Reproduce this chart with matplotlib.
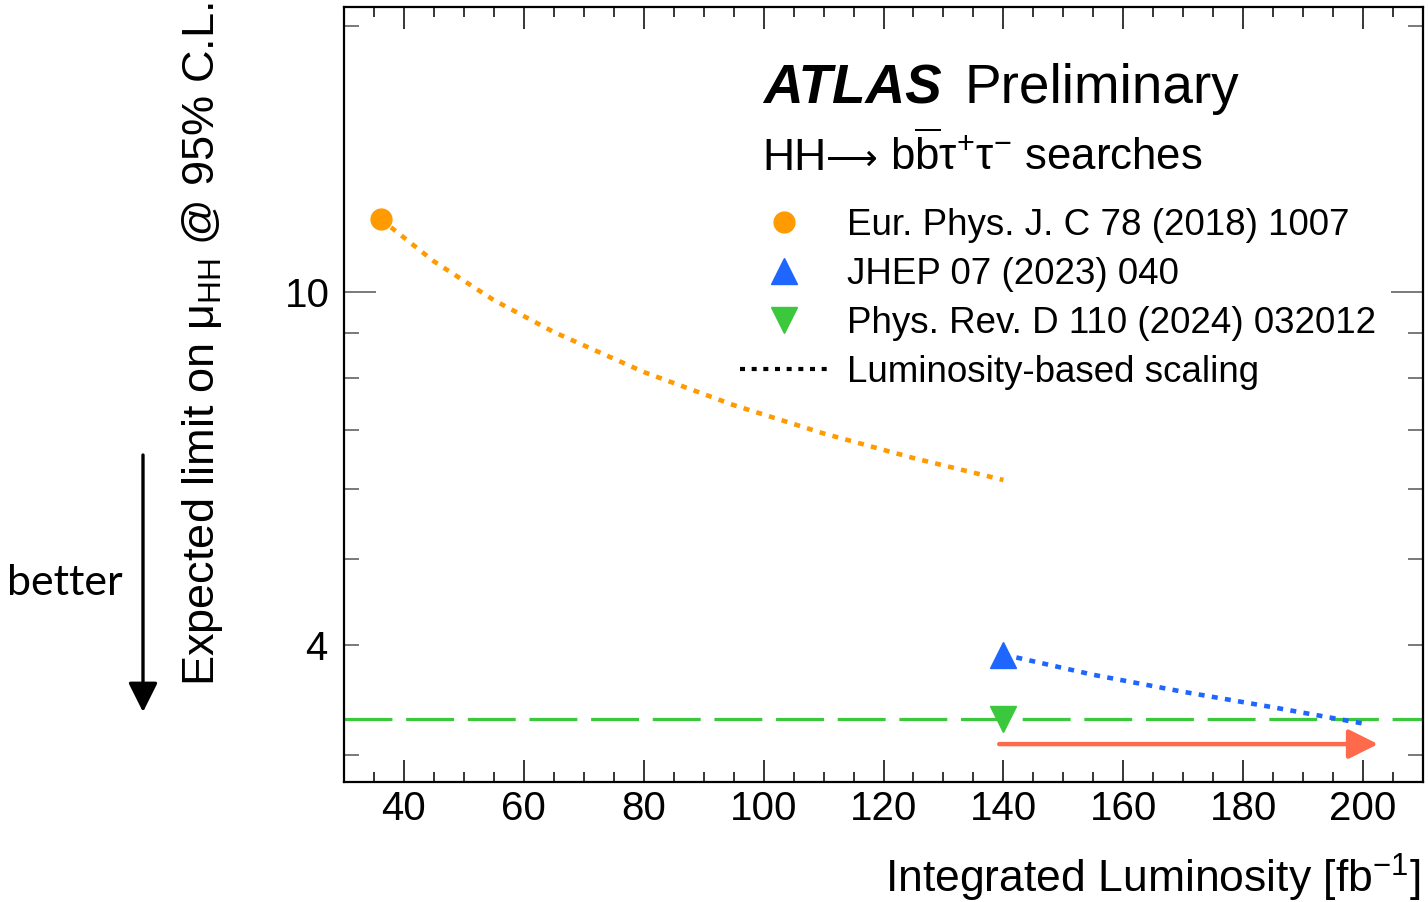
import numpy as np
import matplotlib
matplotlib.use("Agg")
import matplotlib.pyplot as plt
from matplotlib.lines import Line2D

plt.rcParams["font.family"] = ["Liberation Sans", "DejaVu Sans"]
plt.rcParams["mathtext.fontset"] = "custom"
plt.rcParams["mathtext.rm"] = "Liberation Sans"
plt.rcParams["mathtext.it"] = "Liberation Sans:italic"
plt.rcParams["mathtext.bf"] = "Liberation Sans:bold"

# ---- values ----
lumi_2018 = [36.1]
limit_2018 = [12.1]
lumi_2023 = [140]
limit_2023 = [3.9]
lumi_2024 = [140]
limit_2024 = [3.3]

# luminosity-based scaling curves
scale_lumi_2018 = [36.1, 45, 55, 65, 80, 95, 110, 125, 140]
scale_limit_2018 = [12.1, 10.84, 9.80, 9.02, 8.13, 7.46, 6.93, 6.50, 6.14]
scale_lumi_2023 = [140, 155, 170, 185, 200]
scale_limit_2023 = [3.9, 3.70, 3.54, 3.40, 3.26]

# red "more luminosity" arrow
arrow_lumi = [139.3, 202.5]
arrow_limit = 3.09

labels = ["Eur. Phys. J. C 78 (2018) 1007",
          "JHEP 07 (2023) 040",
          "Phys. Rev. D 110 (2024) 032012",
          "Luminosity-based scaling"]

ORANGE = "#ff9a00"
BLUE = "#1f66ff"
GREEN = "#3cc83c"
RED = "#ff6a4d"

W, H = 1428, 902
fig = plt.figure(figsize=(W / 100, H / 100), dpi=100)
ax = fig.add_axes([344 / W, (H - 782) / H, (1423 - 344) / W, (782 - 7) / H])

# ---- data ----
ax.axhline(limit_2024[0], color=GREEN, lw=2.3, dashes=(15, 4.3), zorder=2)
ax.plot(scale_lumi_2018, scale_limit_2018, color=ORANGE, lw=3.3,
        dashes=(1.3, 1.6), zorder=3)
ax.plot(scale_lumi_2023, scale_limit_2023, color=BLUE, lw=3.3,
        dashes=(1.3, 1.6), zorder=3)
ax.plot(lumi_2018, limit_2018, "o", color=ORANGE, ms=15, zorder=4)
ax.plot(lumi_2023, limit_2023, "^", color=BLUE, ms=19, zorder=4)
ax.plot(lumi_2024, limit_2024, "v", color=GREEN, ms=19, zorder=4)

ax.annotate("", xy=(arrow_lumi[1], arrow_limit), xytext=(arrow_lumi[0], arrow_limit),
            xycoords="data", textcoords="data",
            arrowprops=dict(arrowstyle="-|>,head_length=0.9,head_width=0.45",
                            mutation_scale=20, lw=3.2, color=RED,
                            shrinkA=0, shrinkB=0))

# ---- axes ----
ax.set_yscale("log")
ax.set_xlim(30, 210)
ax.set_ylim(2.8, 21)

ax.set_xticks(np.arange(40, 201, 20))
ax.set_xticks(np.arange(35, 210, 5), minor=True)
ax.set_yticks([10], labels=["10"])
minor_y = [3, 4, 5, 6, 7, 8, 9, 20]
ax.set_yticks(minor_y, labels=["4" if v == 4 else "" for v in minor_y], minor=True)

for s in ax.spines.values():
    s.set_linewidth(1.6)
ax.tick_params(axis="both", which="both", direction="in", top=True, right=True,
               width=1.1, labelsize=29)
ax.tick_params(axis="x", which="major", length=16, pad=6)
ax.tick_params(axis="x", which="minor", length=7.5)
ax.tick_params(axis="y", which="major", length=23, pad=10, color="#555555")
ax.tick_params(axis="y", which="minor", length=11, pad=12, color="#555555")

# ---- labels ----
fig.text(203 / W, 1 - 2 / H, r"Expected limit on μ$_{\mathrm{HH}}$ @ 95% C.L.",
         rotation=90, ha="center", va="top", fontsize=32.5)
fig.text(1421 / W, 1 - 878 / H, r"Integrated Luminosity [fb$^{-1}$]",
         ha="right", va="center", fontsize=32)

fig.text(763 / W, 1 - 103 / H, "ATLAS", fontsize=39.5, fontweight="bold",
         fontstyle="italic", va="baseline")
fig.text(964 / W, 1 - 103 / H, "Preliminary", fontsize=39.5, va="baseline")

# process line: "HH" + long arrow + rest, chained left to right
renderer = fig.canvas.get_renderer()
y_proc = 1 - 170 / H
t_hh = fig.text(762 / W, y_proc, "HH", fontsize=32, va="baseline")
x_next = t_hh.get_window_extent(renderer).x1
t_arr = fig.text(x_next / W, 1 - 160 / H, "⟶", family=["DejaVu Sans"],
                 fontsize=26, va="center")
x_next = t_arr.get_window_extent(renderer).x1
fig.text(x_next / W, y_proc, r" b$\overline{\mathrm{b}}$τ$^{+}$τ$^{-}$ searches",
         fontsize=31.5, va="baseline")

handles = [
    Line2D([], [], ls="none", marker="o", color=ORANGE, ms=15),
    Line2D([], [], ls="none", marker="^", color=BLUE, ms=19),
    Line2D([], [], ls="none", marker="v", color=GREEN, ms=19),
    Line2D([], [], color="black", lw=3.0, dashes=(1.2, 1.6)),
]
ax.legend(handles, labels, loc="upper left", bbox_to_anchor=(740 / W, 1 - 208 / H),
          bbox_transform=fig.transFigure, frameon=False, fontsize=26.5,
          borderpad=0, borderaxespad=0, handlelength=2.4, handletextpad=0.5,
          labelspacing=0.38)

# ---- "better" arrow ----
fig.text(65 / W, 1 - 583 / H, "better", family=["Lato", "DejaVu Sans"],
         fontsize=31, ha="center", va="center")
ax.annotate("", xy=(143, H - 712), xytext=(143, H - 455),
            xycoords="figure pixels", textcoords="figure pixels",
            annotation_clip=False,
            arrowprops=dict(arrowstyle="-|>,head_length=0.9,head_width=0.45",
                            mutation_scale=20, lw=2.4, color="black",
                            shrinkA=0, shrinkB=0))

fig.savefig("out.png", dpi=100)
